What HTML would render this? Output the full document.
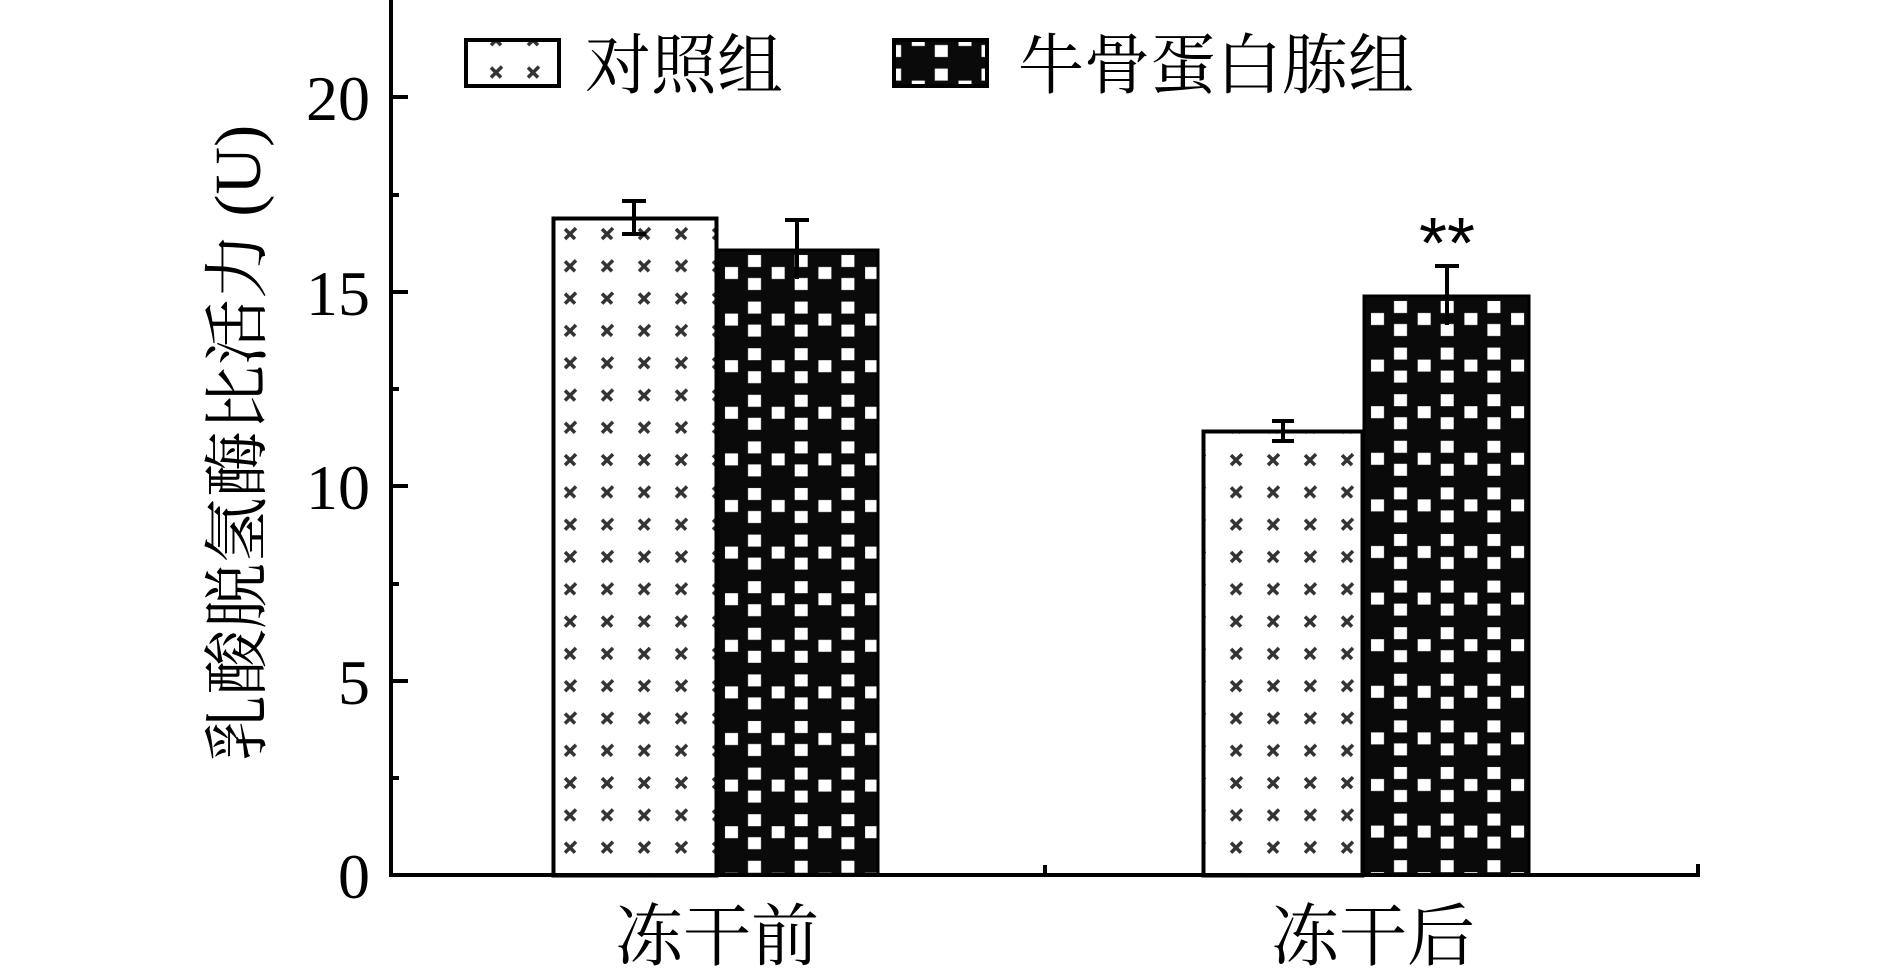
<!DOCTYPE html>
<html><head><meta charset="utf-8"><style>html,body{margin:0;padding:0;background:#fff}svg{display:block}</style></head>
<body>
<svg width="1890" height="973" viewBox="0 0 1890 973" xmlns="http://www.w3.org/2000/svg">
<defs>
<pattern id="pc" patternUnits="userSpaceOnUse" x="552" y="217" width="37" height="32.3">
<rect width="37" height="32.3" fill="#fff"/>
<g stroke="#333" stroke-width="3.5">
<line x1="13" y1="22" x2="24" y2="11"/><line x1="13" y1="12" x2="23" y2="22"/>
</g>
</pattern>
<pattern id="pb2" patternUnits="userSpaceOnUse" x="1363" y="295" width="46.7" height="46.6">
<rect width="46.7" height="46.6" fill="#0a0a0a"/>
<rect x="8" y="18" width="13" height="12" fill="#fff"/>
<rect x="31" y="6" width="13" height="12" fill="#fff"/>
<rect x="31" y="29" width="13" height="12" fill="#fff"/>
</pattern>
<pattern id="pb1" patternUnits="userSpaceOnUse" x="717" y="249" width="46.7" height="46.6">
<rect width="46.7" height="46.6" fill="#0a0a0a"/>
<rect x="8" y="18" width="13" height="12" fill="#fff"/>
<rect x="31" y="6" width="13" height="12" fill="#fff"/>
<rect x="31" y="29" width="13" height="12" fill="#fff"/>
</pattern>
</defs>

<rect x="553.5" y="218.5" width="163" height="657" fill="url(#pc)" stroke="#000" stroke-width="4"/>
<rect x="718" y="250" width="160" height="625" fill="url(#pb1)" stroke="#000" stroke-width="3"/>
<rect x="1203.5" y="431.5" width="159" height="444" fill="url(#pc)" stroke="#000" stroke-width="4"/>
<rect x="1364" y="296" width="165" height="579" fill="url(#pb2)" stroke="#000" stroke-width="3"/>

<g stroke="#000" stroke-width="4" fill="none">
<line x1="634" y1="200" x2="634" y2="234"/><line x1="622" y1="201" x2="646" y2="201"/><line x1="622" y1="234" x2="646" y2="234"/>
<line x1="797" y1="219" x2="797" y2="279"/><line x1="785" y1="220" x2="809" y2="220"/>
<line x1="1283" y1="420" x2="1283" y2="442"/><line x1="1272" y1="421" x2="1294" y2="421"/><line x1="1272" y1="441" x2="1294" y2="441"/>
<line x1="1447" y1="265" x2="1447" y2="325"/><line x1="1435" y1="266" x2="1459" y2="266"/>
</g>
<text x="1447" y="268" font-family="Liberation Sans, sans-serif" font-size="72" text-anchor="middle">**</text>

<g stroke="#000" stroke-width="4" fill="none">
<line x1="391" y1="0" x2="391" y2="877"/>
<line x1="389" y1="875" x2="1700" y2="875"/>
<line x1="1045" y1="865" x2="1045" y2="875"/>
<line x1="1698" y1="864" x2="1698" y2="875"/>
<line x1="391" y1="97" x2="408" y2="97"/>
<line x1="391" y1="292" x2="408" y2="292"/>
<line x1="391" y1="486" x2="408" y2="486"/>
<line x1="391" y1="681" x2="408" y2="681"/>
<line x1="391" y1="195" x2="399" y2="195"/>
<line x1="391" y1="389" x2="399" y2="389"/>
<line x1="391" y1="584" x2="399" y2="584"/>
<line x1="391" y1="778" x2="399" y2="778"/>
</g>
<g font-family="Liberation Serif, serif" font-size="64" text-anchor="end">
<text x="370" y="120">20</text>
<text x="370" y="315">15</text>
<text x="370" y="509">10</text>
<text x="370" y="704">5</text>
<text x="370" y="898">0</text>
</g>

<text transform="translate(260,443) rotate(-90)" font-family="Liberation Serif, 'Noto Serif CJK SC', serif" font-size="66" text-anchor="middle">乳酸脱氢酶比活力 (U)</text>

<g font-family="Liberation Serif, 'Noto Serif CJK SC', serif" font-size="68" text-anchor="middle">
<text x="717" y="960">冻干前</text>
<text x="1373" y="960">冻干后</text>
</g>

<rect x="466" y="40" width="93" height="46" fill="url(#pc)" stroke="#000" stroke-width="4"/>
<text x="585" y="88" font-family="Liberation Serif, 'Noto Serif CJK SC', serif" font-size="66">对照组</text>
<rect x="894" y="40" width="93" height="46" fill="url(#pb1)" stroke="#000" stroke-width="4"/>
<text x="1018" y="88" font-family="Liberation Serif, 'Noto Serif CJK SC', serif" font-size="66">牛骨蛋白胨组</text>
</svg>
</body></html>
